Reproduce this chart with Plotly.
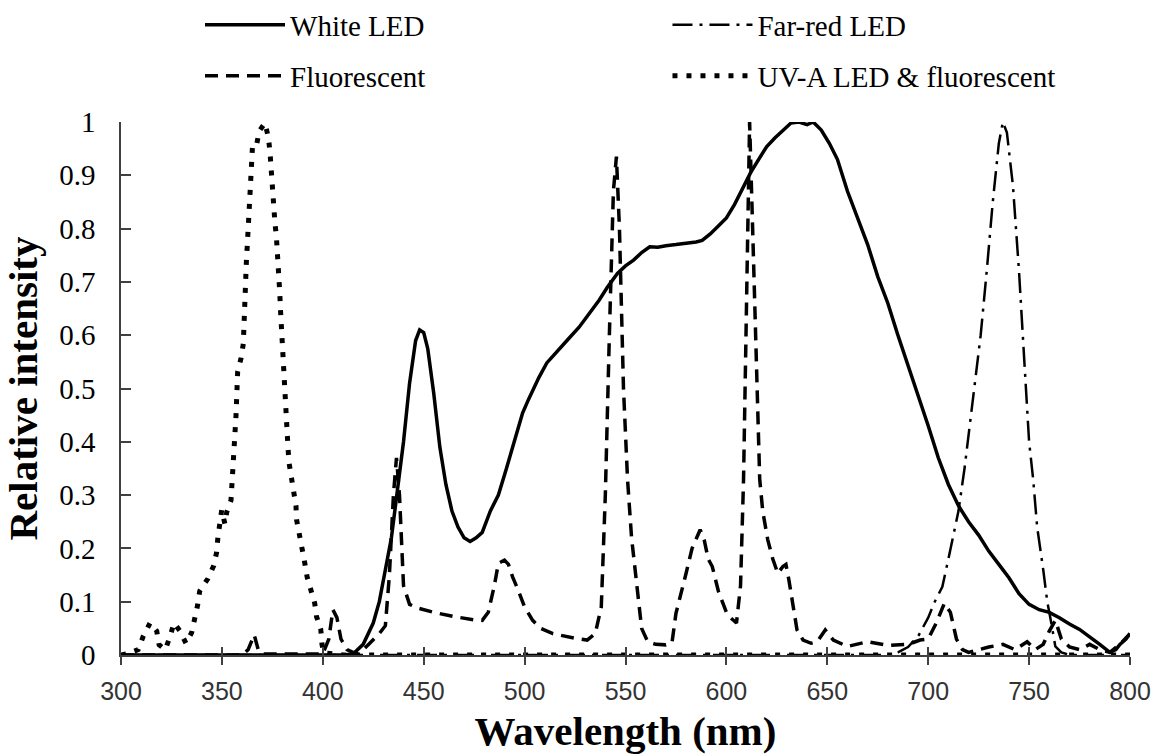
import plotly.graph_objects as go

# ---------------- data ----------------
white_wl = [300, 350, 400, 410, 415, 420, 425, 428, 431, 434, 437, 440, 443, 446, 448, 450,
            452, 455, 458, 461, 464, 467, 470, 473, 476, 479, 483, 487, 491, 495, 499, 502,
            507, 511, 516, 521, 527, 532, 537, 541, 546, 550, 554, 558, 562, 566, 570, 575,
            580, 585, 588, 592, 596, 600, 604, 608, 612, 616, 620, 624, 628, 632, 636, 640,
            643, 647, 651, 655, 660, 665, 670, 675, 680, 685, 690, 695, 700, 705, 710, 715,
            720, 725, 730, 735, 740, 745, 750, 755, 760, 765, 770, 775, 780, 785, 790, 793,
            795, 798, 800]
white_int = [0.0, 0.0, 0.0, 0.0, 0.002, 0.02, 0.06, 0.1, 0.16, 0.22, 0.31, 0.4, 0.51, 0.59, 0.61, 0.605,
             0.575, 0.49, 0.39, 0.32, 0.27, 0.24, 0.22, 0.213, 0.22, 0.23, 0.27, 0.3, 0.35, 0.4, 0.454, 0.48,
             0.52, 0.548, 0.57, 0.59, 0.615, 0.64, 0.666, 0.69, 0.716, 0.73, 0.741, 0.755, 0.766, 0.765, 0.768, 0.77,
             0.772, 0.775, 0.778, 0.79, 0.805, 0.82, 0.845, 0.875, 0.905, 0.93, 0.954, 0.97, 0.985, 0.998, 1.0, 0.995,
             1.0, 0.985, 0.96, 0.93, 0.87, 0.82, 0.77, 0.71, 0.66, 0.6, 0.545, 0.49, 0.43, 0.37, 0.32, 0.28,
             0.25, 0.225, 0.195, 0.17, 0.145, 0.115, 0.095, 0.085, 0.08, 0.07, 0.058, 0.048, 0.035, 0.02, 0.005, 0.01,
             0.02, 0.03, 0.04]

farred_wl = [300, 400, 500, 600, 680, 685, 690, 695, 700, 703, 707, 710, 715, 718, 721, 723, 726,
             729, 732, 735, 737, 739, 742, 745, 748, 750, 752, 754, 757, 759, 761, 763, 766, 770, 800]
farred_int = [0, 0, 0, 0, 0, 0.005, 0.015, 0.035, 0.07, 0.098, 0.128, 0.18, 0.27, 0.35, 0.44, 0.5, 0.6,
              0.72, 0.85, 0.96, 1.0, 0.98, 0.88, 0.72, 0.52, 0.4, 0.33, 0.24, 0.16, 0.1, 0.06, 0.016, 0.005, 0, 0]

fluor_wl = [300, 360, 363, 366, 368, 370, 400, 403, 405, 407, 409, 412, 416, 420, 424, 428, 431,
            433, 435, 436.5, 438, 440, 443, 447, 455, 465, 475, 479, 482, 485, 487, 490, 492, 494,
            497, 500, 504, 508, 514, 521, 527, 531, 535, 538, 540, 542, 544, 545.5, 547, 549, 551,
            553, 555.5, 558, 561, 565, 570, 573, 575, 578, 580, 583, 587, 589, 591, 593, 596, 600,
            602, 605, 607, 608.5, 610, 611.5, 613, 615, 616.5, 618, 620.5, 623, 625.5, 628, 629.5,
            631, 633, 635, 638, 642, 645, 649, 653, 660, 670, 680, 690, 696, 700, 704, 708, 711,
            714, 717, 720, 730, 737, 743, 749, 753, 757, 760, 763, 766, 770, 775, 780, 785, 790,
            795, 800]
fluor_int = [0, 0, 0.01, 0.038, 0.01, 0.002, 0.002, 0.03, 0.085, 0.07, 0.03, 0.01, 0.003, 0.01, 0.025, 0.04, 0.055,
             0.15, 0.3, 0.37, 0.3, 0.13, 0.095, 0.088, 0.08, 0.072, 0.066, 0.065, 0.08, 0.13, 0.172, 0.178, 0.17, 0.147,
             0.12, 0.09, 0.065, 0.05, 0.04, 0.034, 0.03, 0.028, 0.04, 0.09, 0.3, 0.6, 0.87, 0.935, 0.8, 0.5, 0.33,
             0.22, 0.14, 0.05, 0.025, 0.02, 0.019, 0.022, 0.078, 0.12, 0.153, 0.2, 0.235, 0.216, 0.18, 0.166, 0.12, 0.08,
             0.07, 0.06, 0.13, 0.33, 0.7, 1.0, 0.8, 0.5, 0.33, 0.27, 0.216, 0.18, 0.153, 0.166, 0.17,
             0.14, 0.09, 0.047, 0.028, 0.022, 0.025, 0.047, 0.028, 0.016, 0.025, 0.018, 0.02, 0.028, 0.03, 0.06, 0.097, 0.08,
             0.03, 0.01, 0.005, 0.015, 0.02, 0.01, 0.025, 0.01, 0.02, 0.045, 0.065, 0.03, 0.015, 0.01, 0.02, 0.01, 0.005,
             0.02, 0.04]

uva_wl = [300, 302.8, 308.5, 311, 314.4, 317.7, 318.9, 322, 324.3, 326.3, 329.2, 332.2, 335, 336.7,
          338, 339, 343, 346, 347.4, 348, 349, 349.9, 351.5, 352.4, 354.5, 355, 355.6, 356.3, 357,
          357.8, 359.5, 360.6, 361, 361.5, 362.2, 362.6, 363, 363.4, 363.9, 364.4, 364.7, 365.2,
          367.2, 368.5, 371.3, 373, 373.8, 374.2, 375, 375.5, 375.8, 376.3, 377, 377.5, 378, 378.3,
          378.7, 379, 379.3, 379.6, 380, 380.5, 380.8, 381.3, 381.6, 382, 382.5, 382.8, 383.3,
          384.6, 385.7, 386.7, 387, 388.1, 389.5, 391, 392.2, 394.1, 396, 396.9, 399, 399.6, 400.5,
          410, 450, 500, 550, 600, 650, 700, 750, 800]
uva_int = [0.0, 0.002, 0.01, 0.035, 0.06, 0.045, 0.019, 0.01, 0.035, 0.06, 0.045, 0.022, 0.042, 0.067,
           0.094, 0.12, 0.143, 0.168, 0.193, 0.22, 0.246, 0.272, 0.246, 0.268, 0.29, 0.318, 0.344, 0.398, 0.45,
           0.531, 0.557, 0.584, 0.64, 0.69, 0.745, 0.77, 0.8, 0.823, 0.85, 0.876, 0.93, 0.957,
           0.957, 0.983, 0.998, 0.972, 0.945, 0.918, 0.89, 0.866, 0.84, 0.81, 0.785, 0.76, 0.73, 0.705,
           0.678, 0.65, 0.626, 0.6, 0.573, 0.546, 0.52, 0.49, 0.467, 0.44, 0.413, 0.386, 0.36,
           0.334, 0.307, 0.28, 0.254, 0.228, 0.2, 0.174, 0.147, 0.124, 0.097, 0.072, 0.048, 0.02, 0.004,
           0.0, 0.0, 0.0, 0.0, 0.0, 0.0, 0.0, 0.0, 0.0]

x_ticks = [300, 350, 400, 450, 500, 550, 600, 650, 700, 750, 800]
y_ticks = [0, 0.1, 0.2, 0.3, 0.4, 0.5, 0.6, 0.7, 0.8, 0.9, 1]
y_ticktext = ["0", "0.1", "0.2", "0.3", "0.4", "0.5", "0.6", "0.7", "0.8", "0.9", "1"]

# ---------------- figure ----------------
fig = go.Figure()
fig.add_trace(go.Scatter(x=white_wl, y=white_int, mode="lines", name="White LED",
                         line=dict(color="black", width=3.5), legend="legend"))
fig.add_trace(go.Scatter(x=farred_wl, y=farred_int, mode="lines", name="Far-red LED",
                         line=dict(color="black", width=2.5, dash="20px,7px,3px,7px"), legend="legend2"))
fig.add_trace(go.Scatter(x=fluor_wl, y=fluor_int, mode="lines", name="Fluorescent",
                         line=dict(color="black", width=3.5, dash="13px,8px"), legend="legend3"))
fig.add_trace(go.Scatter(x=uva_wl, y=uva_int, mode="lines", name="UV-A LED & fluorescent",
                         line=dict(color="black", width=5, dash="5px,9px"), legend="legend4"))
# second x axis only to draw the upper half of the crossing tick marks
fig.add_trace(go.Scatter(x=[300, 800], y=[None, None], xaxis="x2", showlegend=False,
                         hoverinfo="skip", mode="lines"))

axis_col = "#404040"
leg_font = dict(family="Liberation Serif", size=29, color="black")


def leg(x, y):
    return dict(orientation="h", x=x, xanchor="left", y=y, yanchor="middle",
                itemwidth=80, font=leg_font, bgcolor="rgba(0,0,0,0)")


fig.update_layout(
    width=1157, height=754,
    margin=dict(l=121, r=27, t=122, b=99, autoexpand=False),
    plot_bgcolor="white", paper_bgcolor="white",
    xaxis=dict(range=[300, 800], tickvals=x_ticks, showgrid=False, zeroline=False,
               showline=True, linecolor=axis_col, linewidth=1.5,
               ticks="outside", ticklen=8, tickwidth=1.5, tickcolor=axis_col,
               ticklabelstandoff=5,
               tickfont=dict(family="Liberation Sans", size=25, color="#333333"),
               title=dict(text="Wavelength (nm)", standoff=15,
                          font=dict(family="Liberation Serif", size=41, color="black", weight="bold"))),
    xaxis2=dict(range=[300, 800], tickvals=x_ticks, overlaying="x", anchor="y", side="bottom",
                showgrid=False, zeroline=False, showline=False, showticklabels=False,
                ticks="inside", ticklen=8, tickwidth=1.5, tickcolor=axis_col),
    yaxis=dict(range=[0, 1], tickvals=y_ticks, ticktext=y_ticktext, showgrid=False, zeroline=False,
               showline=True, linecolor=axis_col, linewidth=1.5,
               ticks="inside", ticklen=10, tickwidth=1.5, tickcolor=axis_col,
               ticklabelstandoff=18,
               tickfont=dict(family="Liberation Serif", size=29, color="black"),
               title=dict(text="Relative intensity", standoff=12,
                          font=dict(family="Liberation Serif", size=41, color="black", weight="bold"))),
    legend=leg(0.0783, 1.182),
    legend2=leg(0.5416, 1.182),
    legend3=leg(0.0783, 1.0864),
    legend4=leg(0.5416, 1.0864),
    showlegend=True,
)

fig.write_html("out.html",
               config={"displayModeBar": False},
               post_script="document.body.style.margin='0px';document.body.style.overflow='hidden';")
